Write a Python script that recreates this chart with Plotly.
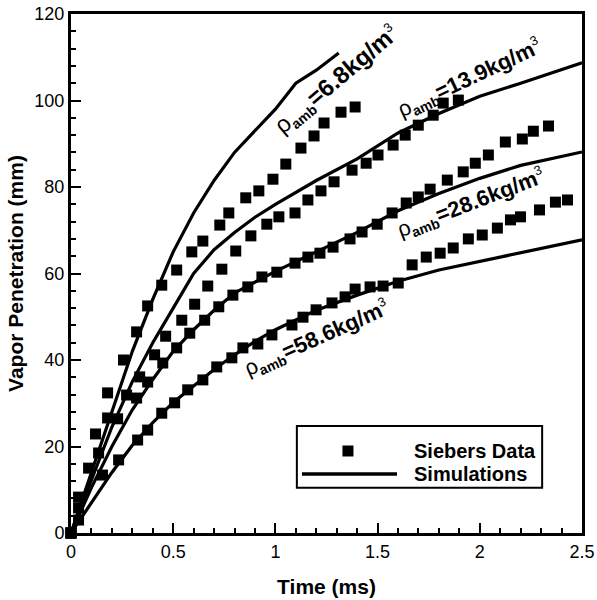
import plotly.graph_objects as go

# ---------------- Data ----------------
# Siebers measured vapor penetration (mm) vs time (ms)
t_data_68 = [0, 0.037, 0.086, 0.120, 0.179, 0.257, 0.321, 0.375, 0.444, 0.517, 0.591, 0.645,
             0.728, 0.772, 0.855, 0.919, 0.988, 1.051, 1.125, 1.189, 1.238, 1.321, 1.390]
y_data_68 = [0, 8.3, 15.0, 22.9, 32.4, 40.0, 46.5, 52.5, 57.3, 60.8, 65.0, 67.5,
             71.2, 74.0, 77.5, 79.1, 81.8, 85.3, 89.0, 91.8, 94.8, 97.3, 98.5]

t_data_139 = [0, 0.037, 0.135, 0.179, 0.272, 0.336, 0.409, 0.463, 0.542, 0.605, 0.669, 0.738,
              0.806, 0.880, 0.958, 1.017, 1.096, 1.159, 1.223, 1.287, 1.375, 1.444, 1.502,
              1.576, 1.635, 1.699, 1.772, 1.821, 1.895]
y_data_139 = [0, 5.8, 18.5, 26.6, 31.9, 36.1, 41.2, 45.5, 49.2, 52.9, 57.1, 61.0,
              65.2, 68.7, 71.4, 73.1, 74.0, 77.0, 79.1, 81.2, 83.9, 85.5, 87.4,
              89.7, 92.0, 94.3, 96.6, 99.4, 100.1]

t_data_286 = [0, 0.154, 0.228, 0.321, 0.375, 0.449, 0.517, 0.581, 0.654, 0.723, 0.792, 0.865,
              0.934, 1.007, 1.096, 1.159, 1.218, 1.282, 1.365, 1.424, 1.498, 1.571, 1.640,
              1.699, 1.757, 1.841, 1.919, 1.978, 2.042, 2.125, 2.208, 2.262, 2.336]
y_data_286 = [0, 13.4, 26.4, 31.2, 34.9, 39.3, 42.8, 46.2, 49.2, 52.3, 55.0, 56.9,
              59.2, 60.3, 62.4, 63.8, 64.7, 66.1, 68.0, 69.6, 71.4, 74.0, 76.3,
              77.7, 79.5, 81.6, 83.5, 85.5, 87.4, 90.4, 91.1, 92.9, 94.1]

t_data_586 = [0, 0.037, 0.233, 0.326, 0.375, 0.444, 0.507, 0.571, 0.645, 0.713, 0.787, 0.841,
              0.914, 0.983, 1.081, 1.135, 1.199, 1.277, 1.341, 1.390, 1.463, 1.527, 1.601,
              1.669, 1.738, 1.806, 1.870, 1.944, 2.012, 2.086, 2.150, 2.199, 2.292, 2.370,
              2.429, 2.502]
y_data_586 = [0, 3.0, 16.9, 21.5, 23.8, 27.7, 30.1, 33.1, 35.4, 38.4, 40.5, 42.8,
              43.7, 45.8, 48.1, 49.9, 51.6, 53.2, 54.6, 56.4, 56.9, 57.1, 57.8,
              62.0, 63.8, 64.7, 65.9, 68.0, 68.9, 70.5, 72.4, 73.1, 74.7, 76.5,
              77.0, 77.9]

# Simulation curves
t_sim_68 = [0, 0.1, 0.2, 0.3, 0.4, 0.5, 0.6, 0.7, 0.8, 0.9, 1.0, 1.1, 1.2, 1.31]
y_sim_68 = [0, 14, 28.5, 42, 54, 65, 74, 81.5, 88, 93, 98, 104, 107, 111]

t_sim_139 = [0, 0.1, 0.2, 0.3, 0.4, 0.5, 0.6, 0.7, 0.8, 0.9, 1.0, 1.2, 1.4, 1.6, 1.8, 2.0, 2.2, 2.5]
y_sim_139 = [0, 12.5, 24.5, 35, 44, 52, 60, 65.5, 69.5, 73, 76, 81.5, 86.5, 92.5, 97, 101, 104, 108.7]

t_sim_286 = [0, 0.1, 0.2, 0.3, 0.4, 0.5, 0.6, 0.7, 0.8, 0.9, 1.0, 1.2, 1.4, 1.6, 1.8, 2.0, 2.2, 2.5]
y_sim_286 = [0, 10.5, 20, 28.5, 35.5, 42, 47, 51.5, 55.5, 58, 60.5, 65, 69.5, 74.5, 78.5, 82, 85, 88.1]

t_sim_586 = [0, 0.1, 0.2, 0.3, 0.4, 0.5, 0.6, 0.7, 0.8, 0.9, 1.0, 1.2, 1.4, 1.6, 1.8, 2.0, 2.2, 2.5]
y_sim_586 = [0, 7, 14, 20.3, 25.5, 30.2, 34, 37.8, 41.2, 44.3, 47, 51.5, 55, 58.2, 60.8, 62.8, 64.8, 67.8]

# Curve labels
label_texts = ["6.8", "13.9", "28.6", "58.6"]
label_x = [1.30, 1.95, 1.955, 1.203]
label_y = [104.8, 105.0, 76.3, 45.0]
label_angle = [-40, -25, -21, -24]
label_size = [24, 22, 22, 22]

x_tick_vals = [0, 0.5, 1, 1.5, 2, 2.5]
x_tick_text = ["0", "0.5", "1", "1.5", "2", "2.5"]
y_tick_vals = [0, 20, 40, 60, 80, 100, 120]
y_tick_text = ["0", "20", "40", "60", "80", "100", "120"]

legend_names = ["Siebers Data", "Simulations"]

# ---------------- Figure ----------------
FONT = "Arial, Liberation Sans, Helvetica, sans-serif"
fig = go.Figure()

for tx, ty in [(t_sim_68, y_sim_68), (t_sim_139, y_sim_139),
               (t_sim_286, y_sim_286), (t_sim_586, y_sim_586)]:
    fig.add_trace(go.Scatter(x=tx, y=ty, mode="lines", showlegend=False,
                             line=dict(color="black", width=3.2), cliponaxis=False,
                             hoverinfo="skip"))

for tx, ty in [(t_data_68, y_data_68), (t_data_139, y_data_139),
               (t_data_286, y_data_286), (t_data_586, y_data_586)]:
    fig.add_trace(go.Scatter(x=tx, y=ty, mode="markers", showlegend=False,
                             marker=dict(symbol="square", size=11, color="black",
                                         line=dict(width=0)),
                             cliponaxis=False))

annotations = []
for txt, lx, ly, ang, fs in zip(label_texts, label_x, label_y, label_angle, label_size):
    annotations.append(dict(
        x=lx, y=ly, xref="x", yref="y", showarrow=False, textangle=ang,
        text=("ρ<sub><span style='font-size:14px'><b>amb</b></span></sub>"
              "<b>=" + txt + "kg/m</b>"
              "<sup><span style='font-size:13px'>3</span></sup>"),
        font=dict(family=FONT, size=fs, color="black")))

# Custom legend box (paper coordinates)
shapes = [
    dict(type="rect", xref="paper", yref="paper", x0=0.442, x1=0.922, y0=0.087, y1=0.206,
         line=dict(color="black", width=2), fillcolor="white", layer="below"),
    dict(type="line", xref="paper", yref="paper", x0=0.452, x1=0.638, y0=0.1137, y1=0.1137,
         line=dict(color="black", width=3.5)),
    dict(type="rect", xref="paper", yref="paper", xsizemode="pixel", ysizemode="pixel",
         xanchor=0.542, yanchor=0.158, x0=-5.5, x1=5.5, y0=-5.5, y1=5.5,
         fillcolor="black", line=dict(width=0)),
]
for name, yy in zip(legend_names, [0.158, 0.1137]):
    annotations.append(dict(x=0.667, y=yy, xref="paper", yref="paper", showarrow=False,
                            xanchor="left", yanchor="middle", text="<b>" + name + "</b>",
                            font=dict(family=FONT, size=20, color="black")))

axis_common = dict(showgrid=False, zeroline=False, showline=True, linecolor="black",
                   linewidth=3, mirror=True, ticks="inside", ticklen=10, tickwidth=2,
                   tickcolor="black", automargin=False,
                   tickfont=dict(family=FONT, size=18, color="black"))

fig.update_layout(
    width=597, height=600,
    margin=dict(l=71, r=15, t=14, b=67),
    paper_bgcolor="white", plot_bgcolor="white",
    showlegend=False,
    xaxis=dict(range=[0, 2.5], tickvals=x_tick_vals, ticktext=x_tick_text,
               minor=dict(dtick=0.1, tick0=0, ticks="inside", ticklen=5, tickwidth=2,
                          tickcolor="black", showgrid=False),
               title=dict(text="Time (ms)", standoff=19,
                          font=dict(family=FONT, size=21, color="black", weight="bold")),
               **axis_common),
    yaxis=dict(range=[0, 120], tickvals=y_tick_vals, ticktext=y_tick_text,
               minor=dict(dtick=4, tick0=0, ticks="inside", ticklen=5, tickwidth=2,
                          tickcolor="black", showgrid=False),
               title=dict(text="Vapor Penetration (mm)", standoff=6,
                          font=dict(family=FONT, size=21, color="black", weight="bold")),
               **axis_common),
    annotations=annotations,
    shapes=shapes,
)

fig.write_html("out.html", config={"displayModeBar": False},
               post_script="document.body.style.margin='0';document.body.style.padding='0';")
